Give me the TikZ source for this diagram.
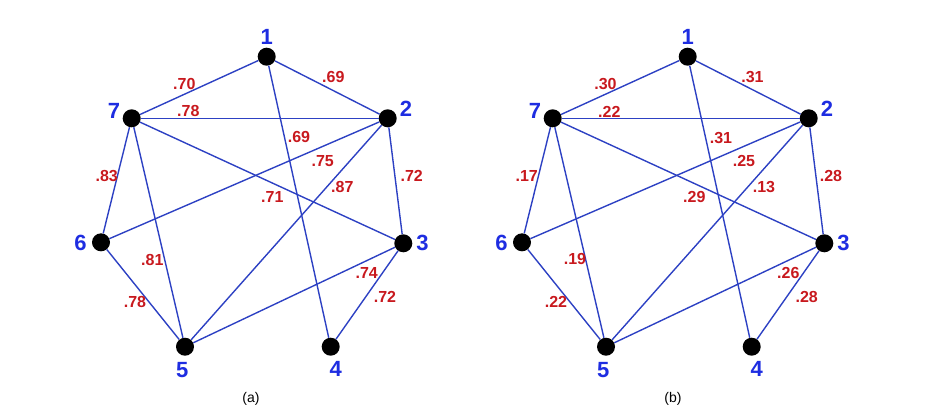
\documentclass[tikz,border=0pt]{standalone}
\usepackage{fontspec}
\setmainfont{Liberation Sans}
\definecolor{nodeblue}{RGB}{30,45,225}
\definecolor{edgeblue}{RGB}{45,65,195}
\definecolor{wred}{RGB}{200,25,30}
\tikzset{
  dot/.style={circle,fill=black,inner sep=0pt,minimum size=18pt},
  num/.style={text=nodeblue,font=\fontsize{22}{22}\selectfont\bfseries,inner sep=0pt},
  wt/.style={text=wred,font=\fontsize{16}{16}\selectfont\bfseries,inner sep=0pt},
  edge/.style={draw=edgeblue,line width=1.4pt},
  captxt/.style={font=\fontsize{14}{14}\selectfont,inner sep=0pt}
}
\newcommand\gbase[1]{%
  \node[dot] (#1-1) at (266.7,56.7) {};
  \node[dot] (#1-2) at (387.7,118.3) {};
  \node[dot] (#1-3) at (403.3,243.3) {};
  \node[dot] (#1-4) at (330.7,346.7) {};
  \node[dot] (#1-5) at (185,346.7) {};
  \node[dot] (#1-6) at (101,242.3) {};
  \node[dot] (#1-7) at (131.7,118.3) {};
  \node[num] (#1-n1) at (266.7,37) {1};
  \node[num] (#1-n2) at (406,109) {2};
  \node[num] (#1-n3) at (422.5,243) {3};
  \node[num] (#1-n4) at (335.7,369) {4};
  \node[num] (#1-n5) at (182.3,370) {5};
  \node[num] (#1-n6) at (80.5,243) {6};
  \node[num] (#1-n7) at (114,111) {7};
  \draw[edge] (#1-1) -- (#1-7);
  \draw[edge] (#1-1) -- (#1-2);
  \draw[edge] (#1-1) -- (#1-4);
  \draw[edge] (#1-7) -- (#1-2);
  \draw[edge] (#1-7) -- (#1-3);
  \draw[edge] (#1-7) -- (#1-6);
  \draw[edge] (#1-7) -- (#1-5);
  \draw[edge] (#1-2) -- (#1-6);
  \draw[edge] (#1-2) -- (#1-5);
  \draw[edge] (#1-2) -- (#1-3);
  \draw[edge] (#1-3) -- (#1-5);
  \draw[edge] (#1-3) -- (#1-4);
  \draw[edge] (#1-6) -- (#1-5);
}
\begin{document}
\begin{tikzpicture}[x=1pt,y=-1pt]
\useasboundingbox (0,0) rectangle (931,418);
\begin{scope}
  \gbase{a}
  \node[wt] (a-w17) at (184.3,84) {.70};
  \node[wt] (a-w12) at (333.3,76.7) {.69};
  \node[wt] (a-w72) at (188.3,110.7) {.78};
  \node[wt] (a-w14) at (299,137.3) {.69};
  \node[wt] (a-w26) at (322.7,161) {.75};
  \node[wt] (a-w25) at (342.3,186.7) {.87};
  \node[wt] (a-w23) at (411.7,175.7) {.72};
  \node[wt] (a-w76) at (106.7,175.7) {.83};
  \node[wt] (a-w73) at (272.3,197.3) {.71};
  \node[wt] (a-w75) at (152.3,260) {.81};
  \node[wt] (a-w65) at (135,301.7) {.78};
  \node[wt] (a-w35) at (366.7,273.3) {.74};
  \node[wt] (a-w34) at (385,296.7) {.72};
  \node[captxt] (a-cap) at (251,399) {(a)};
\end{scope}
\begin{scope}[xshift=421pt]
  \gbase{b}
  \node[wt] (b-w17) at (184.5,84) {.30};
  \node[wt] (b-w12) at (331.5,77.3) {.31};
  \node[wt] (b-w72) at (188.3,112) {.22};
  \node[wt] (b-w14) at (300,138.3) {.31};
  \node[wt] (b-w26) at (323,161) {.25};
  \node[wt] (b-w25) at (343,187.3) {.13};
  \node[wt] (b-w23) at (410,175.7) {.28};
  \node[wt] (b-w76) at (105.7,175.7) {.17};
  \node[wt] (b-w73) at (273.3,197.3) {.29};
  \node[wt] (b-w75) at (154,259.3) {.19};
  \node[wt] (b-w65) at (135,302.3) {.22};
  \node[wt] (b-w35) at (367.3,273.3) {.26};
  \node[wt] (b-w34) at (385.7,296.7) {.28};
  \node[captxt] (b-cap) at (252,399) {(b)};
\end{scope}
\end{tikzpicture}
\end{document}
